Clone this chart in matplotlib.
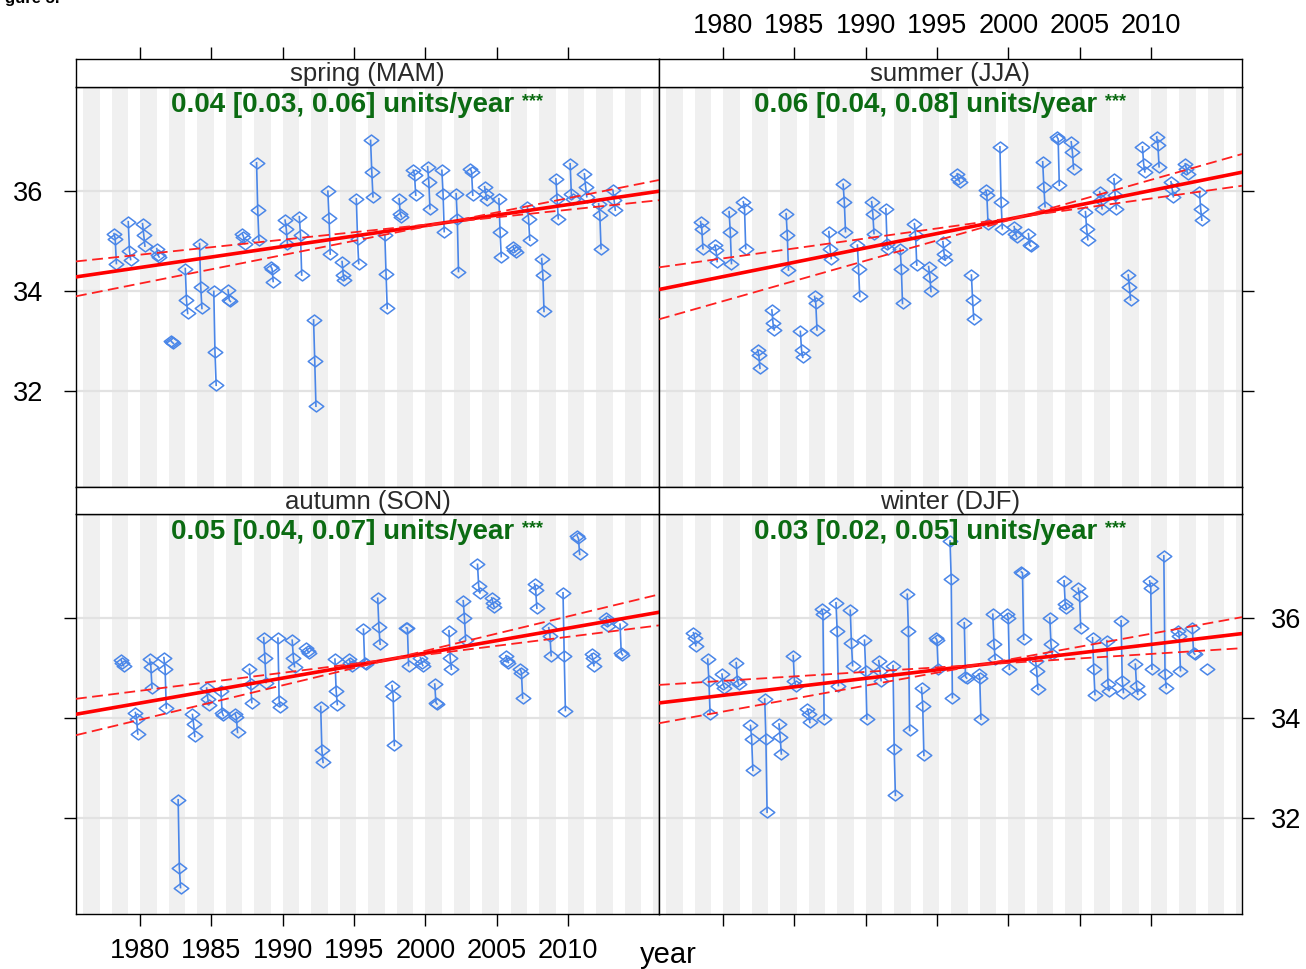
import numpy as np
import matplotlib.pyplot as plt
from matplotlib.path import Path

plt.rcParams['font.family'] = ['Liberation Sans', 'DejaVu Sans']

# ---- data ----
years = list(range(1978, 2014))

# three monthly values per year, month order
spring = [
    [35.15, 35.05, 34.55], [35.39, 34.80, 34.63], [35.35, 35.13, 34.90], [34.85, 34.72, 34.68],
    [33.00, 32.97, 32.95], [34.45, 33.82, 33.55], [34.95, 34.09, 33.65], [33.99, 32.77, 32.11],
    [34.02, 33.82, 33.79], [35.15, 35.09, 34.95], [36.57, 35.62, 35.02], [34.49, 34.45, 34.19],
    [35.42, 35.25, 34.95], [35.49, 35.12, 34.32], [33.42, 32.59, 31.69], [36.00, 35.47, 34.74],
    [34.59, 34.32, 34.22], [35.85, 35.05, 34.55], [37.02, 36.39, 35.89], [35.12, 34.35, 33.65],
    [35.85, 35.55, 35.49], [36.42, 36.32, 35.92], [36.49, 36.19, 35.65], [36.42, 35.95, 35.19],
    [35.95, 35.45, 34.39], [36.45, 36.39, 35.92], [36.09, 35.95, 35.82], [35.85, 35.19, 34.69],
    [34.89, 34.82, 34.79], [35.69, 35.45, 35.02], [34.65, 34.32, 33.59], [36.25, 35.85, 35.45],
    [36.55, 35.95, 35.85], [36.35, 36.09, 35.89], [35.75, 35.52, 34.85], [36.02, 35.82, 35.62],
]
summer = [
    [35.39, 35.25, 34.85], [34.92, 34.82, 34.59], [35.59, 35.19, 34.55], [35.79, 35.65, 34.85],
    [32.82, 32.72, 32.45], [33.62, 33.35, 33.22], [35.55, 35.12, 34.42], [33.19, 32.82, 32.67],
    [33.89, 33.75, 33.22], [35.19, 34.85, 34.65], [36.14, 35.79, 35.19], [34.92, 34.45, 33.89],
    [35.79, 35.55, 35.15], [35.65, 34.95, 34.85], [34.85, 34.45, 33.75], [35.35, 35.12, 34.52],
    [34.49, 34.29, 33.99], [34.99, 34.75, 34.62], [36.35, 36.25, 36.19], [34.32, 33.82, 33.43],
    [36.02, 35.92, 35.35], [36.89, 35.79, 35.25], [35.29, 35.15, 35.09], [35.15, 34.92, 34.90],
    [36.59, 36.09, 35.69], [37.09, 37.05, 36.12], [36.99, 36.79, 36.45], [35.59, 35.25, 35.03],
    [35.99, 35.82, 35.65], [36.25, 35.92, 35.65], [34.32, 34.09, 33.82], [36.89, 36.55, 36.39],
    [37.09, 36.92, 36.49], [36.19, 36.05, 35.89], [36.55, 36.45, 36.35], [35.99, 35.65, 35.42],
]
autumn = [
    [35.16, 35.10, 35.05], [34.11, 33.98, 33.68], [35.18, 35.03, 34.60], [35.21, 34.98, 34.20],
    [32.36, 31.00, 30.60], [34.07, 33.88, 33.63], [34.60, 34.38, 34.27], [34.55, 34.11, 34.05],
    [34.08, 34.01, 33.71], [34.98, 34.68, 34.31], [35.61, 35.21, 34.71], [35.60, 34.35, 34.23],
    [35.56, 35.21, 35.03], [35.40, 35.35, 35.31], [34.23, 33.35, 33.11], [35.18, 34.55, 34.27],
    [35.18, 35.11, 35.05], [35.78, 35.11, 35.09], [36.40, 35.83, 35.48], [34.65, 34.45, 33.45],
    [35.81, 35.80, 35.05], [35.21, 35.10, 35.05], [34.68, 34.31, 34.28], [35.75, 35.21, 34.98],
    [36.35, 36.01, 35.56], [37.08, 36.65, 36.51], [36.41, 36.31, 36.23], [35.25, 35.15, 35.11],
    [34.98, 34.91, 34.40], [36.69, 36.56, 36.20], [35.81, 35.65, 35.25], [36.51, 35.25, 34.15],
    [37.65, 37.60, 37.28], [35.28, 35.20, 35.05], [36.01, 35.95, 35.85], [35.88, 35.31, 35.27],
]
winter_years = list(range(1978, 2015))
winter = [
    [35.71, 35.60, 35.45], [35.18, 34.75, 34.09], [34.88, 34.68, 34.61], [35.11, 34.75, 34.68],
    [33.85, 33.58, 32.95], [34.38, 33.58, 32.11], [33.88, 33.61, 33.28], [35.25, 34.75, 34.65],
    [34.18, 34.08, 33.91], [36.18, 36.08, 33.98], [36.31, 35.75, 34.65], [36.16, 35.51, 35.05],
    [35.56, 34.95, 33.98], [35.15, 34.95, 34.75], [35.05, 33.38, 32.45], [36.48, 35.75, 33.75],
    [34.61, 34.25, 33.25], [35.60, 35.56, 34.98], [37.55, 36.78, 34.41], [35.91, 34.83, 34.80],
    [34.88, 34.81, 33.98], [36.08, 35.48, 35.18], [36.08, 36.01, 34.98], [36.93, 36.91, 35.58],
    [35.15, 34.95, 34.58], [36.01, 35.48, 35.28], [36.75, 36.28, 36.20], [36.60, 36.45, 35.81],
    [35.61, 34.98, 34.47], [35.55, 34.68, 34.55], [35.95, 34.75, 34.51], [35.08, 34.65, 34.48],
    [36.75, 36.61, 34.98], [37.25, 34.88, 34.61], [35.75, 35.65, 34.95], [35.81, 35.31, 35.28],
    [34.98],
]

season_names = ['spring (MAM)', 'summer (JJA)', 'autumn (SON)', 'winter (DJF)']
season_months = [[3, 4, 5], [6, 7, 8], [9, 10, 11], [0, 1, 2]]  # 0 = December of previous year
season_data = [spring, summer, autumn, winter]
season_years = [years, years, years, winter_years]

# Theil-Sen trend: slope, lower, upper, and the point the lines go through
slopes = [0.042, 0.0575, 0.050, 0.034]
slopes_lo = [0.030, 0.040, 0.036, 0.018]
slopes_hi = [0.057, 0.081, 0.069, 0.052]
centre_year = [2001.4, 2000.9, 1997.6, 1998.1]
centre_val = [35.37, 35.49, 35.18, 35.07]
trend_labels = ['0.04 [0.03, 0.06] units/year', '0.06 [0.04, 0.08] units/year',
                '0.05 [0.04, 0.07] units/year', '0.03 [0.02, 0.05] units/year']

xticks = [1980, 1985, 1990, 1995, 2000, 2005, 2010]
yticks = [32, 34, 36]

# ---- style ----
blue = '#4a86e8'
green = '#0b6b12'
W, H = 1306, 969
XLIM = (1975.5, 2016.4)
YLIM = (30.07, 38.09)
diamond = Path([(-1, 0), (0, 0.75), (1, 0), (0, -0.75), (-1, 0)],
               [Path.MOVETO, Path.LINETO, Path.LINETO, Path.LINETO, Path.CLOSEPOLY])

fig = plt.figure(figsize=(W / 100, H / 100), dpi=100)


def rect(x0, y0, x1, y1):
    return [x0 / W, 1 - y1 / H, (x1 - x0) / W, (y1 - y0) / H]


# x0, x1, strip top, plot top, plot bottom (pixels)
boxes = [(76, 659, 59, 87, 487), (659, 1242, 59, 87, 487),
         (76, 659, 487, 514, 914), (659, 1242, 487, 514, 914)]

for i in range(4):
    x0, x1, st, pt, pb = boxes[i]
    ax = fig.add_axes(rect(x0, pt, x1, pb))
    sx = fig.add_axes(rect(x0, st, x1, pt))

    for y in range(1974, 2018, 2):
        ax.axvspan(y, y + 1.15, color='#f0f0f0', lw=0, zorder=0)
    for v in yticks:
        ax.axhline(v, color='#e2e2e2', lw=1.6, zorder=1)

    for yr, vals in zip(season_years[i], season_data[i]):
        months = season_months[i]
        xs = [yr + (m - 1) / 12 if m > 0 else yr - 1 / 12 for m in months]
        ax.plot(xs[:len(vals)], vals, color=blue, lw=1.2, marker=diamond, ms=10.5,
                mfc='none', mec=blue, mew=1.1, zorder=3)

    xx = np.array(XLIM)
    ax.plot(xx, centre_val[i] + slopes[i] * (xx - centre_year[i]), color='red', lw=2.6, zorder=4)
    ax.plot(xx, centre_val[i] + slopes_lo[i] * (xx - centre_year[i]), color='#ff2020', lw=1.3,
            ls=(0, (6, 3)), zorder=4)
    ax.plot(xx, centre_val[i] + slopes_hi[i] * (xx - centre_year[i]), color='#ff2020', lw=1.3,
            ls=(0, (6, 3)), zorder=4)

    t = ax.text(0.458, 0.988, trend_labels[i], transform=ax.transAxes, ha='center',
                va='top', color=green, fontweight='bold', fontsize=20, zorder=5)
    ax.annotate('***', xy=(1, 1), xycoords=t, xytext=(5, -1), textcoords='offset points',
                ha='left', va='top', color=green, fontweight='bold', fontsize=13, zorder=5)

    ax.set_xlim(XLIM)
    ax.set_ylim(YLIM)
    sx.set_xlim(XLIM)
    sx.set_yticks([])
    sx.text(0.5, 0.45, season_names[i], transform=sx.transAxes, ha='center', va='center',
            fontsize=18.5, color='#2a2a2a')

    for a in (ax, sx):
        for s in a.spines.values():
            s.set_linewidth(1.0)
            s.set_color('black')

    tick_kw = dict(direction='out', length=8.6, width=1.0, labelsize=19.5, colors='black')
    ax.tick_params(**tick_kw)
    sx.tick_params(**tick_kw)
    ax.set_yticks(yticks)

    if i < 2:
        ax.set_xticks([])
        sx.set_xticks(xticks)
        sx.tick_params(axis='x', top=True, bottom=False, labelbottom=False,
                       labeltop=(i == 1), pad=6)
    else:
        sx.set_xticks([])
        ax.set_xticks(xticks)
        ax.tick_params(axis='x', bottom=True, labelbottom=(i == 2), pad=9)

    if i % 2 == 0:
        ax.tick_params(axis='y', left=True, right=False, labelleft=(i == 0), pad=15)
    else:
        ax.tick_params(axis='y', left=False, right=True, labelleft=False,
                       labelright=(i == 3), pad=12)

fig.text(668 / W, 1 - 955 / H, 'year', ha='center', va='center', fontsize=21)
# caption fragment cut off at the top edge, as in the source image
fig.text(0.004, 1 - 3 / H, 'gure 5.', ha='left', va='baseline', fontsize=12, fontweight='bold')

fig.savefig('out.png', dpi=100)
